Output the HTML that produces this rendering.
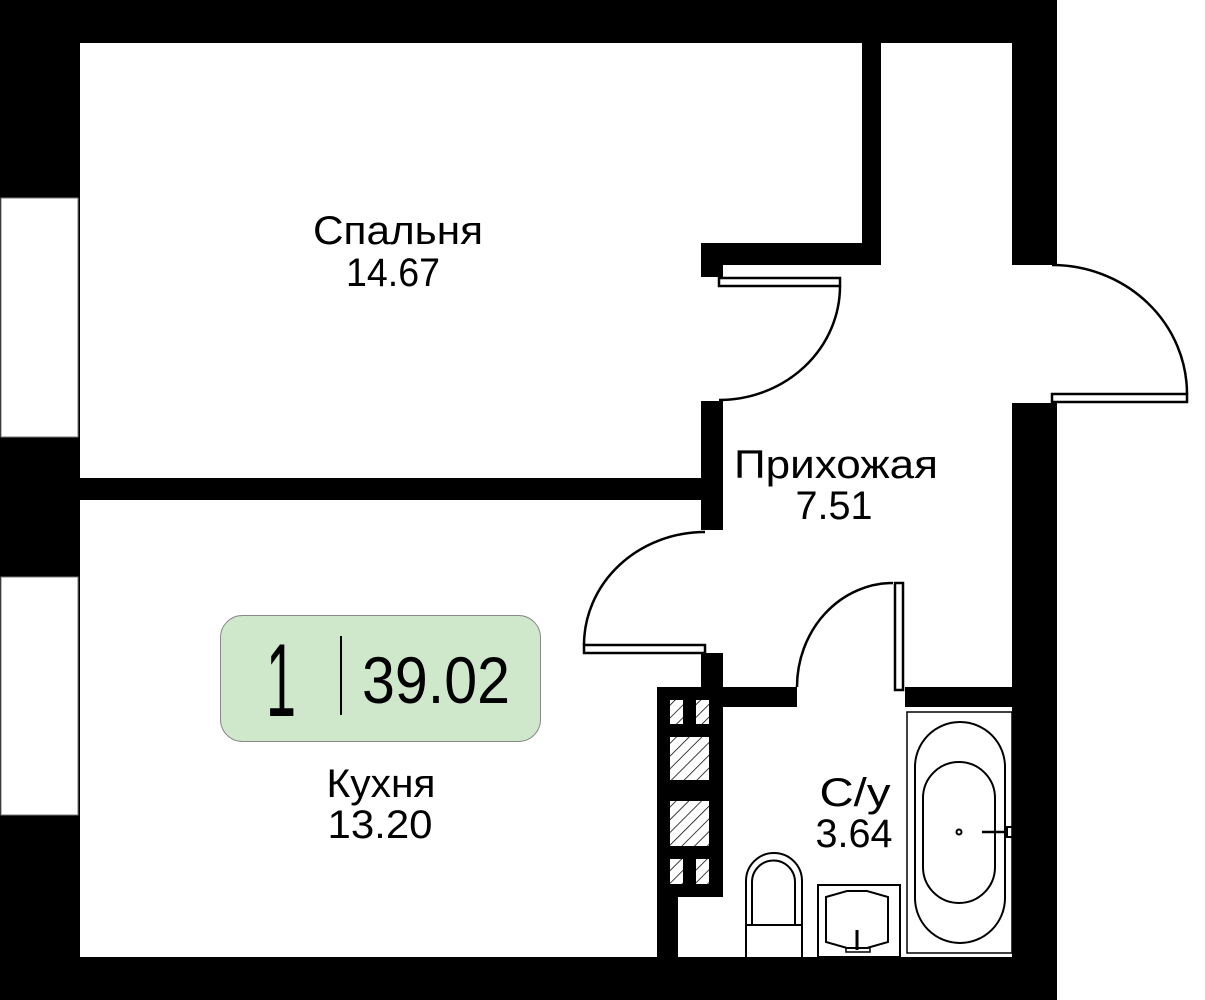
<!DOCTYPE html>
<html><head><meta charset="utf-8"><style>
html,body{margin:0;padding:0;background:#fff;}
svg{display:block}
text{font-family:"Liberation Sans",sans-serif;fill:#000}
</style></head><body>
<svg width="1205" height="1000" viewBox="0 0 1205 1000" xmlns="http://www.w3.org/2000/svg">
<rect x="0" y="0" width="1057" height="1000" fill="#000"/>
<rect x="80" y="43" width="782" height="435" fill="#fff"/>
<rect x="80" y="500" width="621" height="457" fill="#fff"/>
<rect x="881" y="43" width="131" height="200" fill="#fff"/>
<rect x="723" y="243" width="289" height="444" fill="#fff"/>
<rect x="701" y="277" width="30" height="124" fill="#fff"/>
<rect x="583" y="530" width="140" height="123" fill="#fff"/>
<rect x="797" y="580" width="108" height="127" fill="#fff"/>
<rect x="678" y="707" width="334" height="250" fill="#fff"/>
<rect x="1012" y="265" width="50" height="138" fill="#fff"/>
<rect x="862" y="43" width="19" height="222" fill="#000"/>
<rect x="701" y="243" width="180" height="22" fill="#000"/>
<rect x="701" y="243" width="22" height="34" fill="#000"/>
<rect x="701" y="401" width="22" height="129" fill="#000"/>
<rect x="80" y="478" width="643" height="22" fill="#000"/>
<rect x="701" y="653" width="22" height="54" fill="#000"/>
<rect x="701" y="687" width="96" height="20" fill="#000"/>
<rect x="905" y="687" width="107" height="20" fill="#000"/>
<rect x="657" y="687" width="66" height="210" fill="#000"/>
<rect x="657" y="893" width="21" height="64" fill="#000"/>
<rect x="1" y="198" width="77" height="239" fill="#fff" stroke="#777" stroke-width="1"/>
<rect x="1" y="577" width="77" height="238" fill="#fff" stroke="#777" stroke-width="1"/>
<defs><pattern id="h" width="9" height="9" patternUnits="userSpaceOnUse" patternTransform="rotate(45)"><rect width="9" height="9" fill="#fff"/><line x1="0" y1="0" x2="0" y2="9" stroke="#000" stroke-width="1.5"/></pattern></defs>
<rect x="670" y="700" width="13" height="24" fill="url(#h)"/>
<rect x="696" y="700" width="13" height="24" fill="url(#h)"/>
<rect x="670" y="737" width="39" height="43" fill="url(#h)"/>
<rect x="670" y="801" width="39" height="45" fill="url(#h)"/>
<rect x="670" y="859" width="13" height="25" fill="url(#h)"/>
<rect x="696" y="859" width="13" height="25" fill="url(#h)"/>
<g fill="none" stroke="#000" stroke-width="2.5">
<rect x="719" y="278" width="121" height="8" fill="#fff"/>
<path d="M840 286 A121 114 0 0 1 719 400"/>
<rect x="1052" y="394" width="135" height="8" fill="#fff"/>
<path d="M1052 265 A135 129 0 0 1 1187 394"/>
<rect x="584" y="645" width="121" height="8" fill="#fff"/>
<path d="M584 645 A121 113 0 0 1 705 532"/>
<rect x="895" y="583" width="8" height="107" fill="#fff"/>
<path d="M893 583 A96 104 0 0 0 797 687"/>
</g>
<g fill="none" stroke="#000" stroke-width="2">
<rect x="907" y="712" width="105" height="241" stroke-width="1.5"/>
<rect x="915" y="722" width="90" height="221" rx="45" ry="45"/>
<rect x="923" y="762" width="72" height="141" rx="36" ry="36"/>
<circle cx="959" cy="832" r="2.5"/>
<line x1="982" y1="832" x2="1007" y2="832" stroke-width="2.5"/>
<rect x="1007" y="827" width="6" height="10"/>
<path d="M746 957 V881 A28 28 0 0 1 802 881 V957"/>
<path d="M752 925 V882 A21.5 21.5 0 0 1 795 882 V925"/>
<line x1="746" y1="925" x2="802" y2="925"/>
<rect x="818" y="885" width="82" height="72"/>
<path d="M826 897 L847 891 L867 891 L888 897 V942 L867 948 L847 948 L826 942 Z"/>
<line x1="857" y1="930" x2="857" y2="950" stroke-width="3"/>
<rect x="846" y="948" width="24" height="4" stroke-width="1.5"/>
</g>
<text x="398" y="244" font-size="40" text-anchor="middle" textLength="170" lengthAdjust="spacingAndGlyphs">Спальня</text>
<text x="393" y="286" font-size="40" text-anchor="middle" textLength="94" lengthAdjust="spacingAndGlyphs">14.67</text>
<text x="836" y="478" font-size="40" text-anchor="middle" textLength="204" lengthAdjust="spacingAndGlyphs">Прихожая</text>
<text x="834" y="519" font-size="40" text-anchor="middle" textLength="77" lengthAdjust="spacingAndGlyphs">7.51</text>
<text x="381" y="797" font-size="40" text-anchor="middle" textLength="109" lengthAdjust="spacingAndGlyphs">Кухня</text>
<text x="380" y="838" font-size="40" text-anchor="middle" textLength="105" lengthAdjust="spacingAndGlyphs">13.20</text>
<text x="855" y="806" font-size="40" text-anchor="middle" textLength="71" lengthAdjust="spacingAndGlyphs">С/у</text>
<text x="854" y="847" font-size="40" text-anchor="middle" textLength="77" lengthAdjust="spacingAndGlyphs">3.64</text>
<rect x="220.5" y="615.5" width="320" height="126" rx="22" ry="22" fill="#cfe7ca" stroke="#888" stroke-width="1"/>
<text x="281" y="716" font-size="104" text-anchor="middle" textLength="30" lengthAdjust="spacingAndGlyphs">1</text>
<line x1="341" y1="636" x2="341" y2="715" stroke="#000" stroke-width="2"/>
<text x="436" y="703" font-size="66" text-anchor="middle" textLength="148" lengthAdjust="spacingAndGlyphs">39.02</text>
</svg>
</body></html>
